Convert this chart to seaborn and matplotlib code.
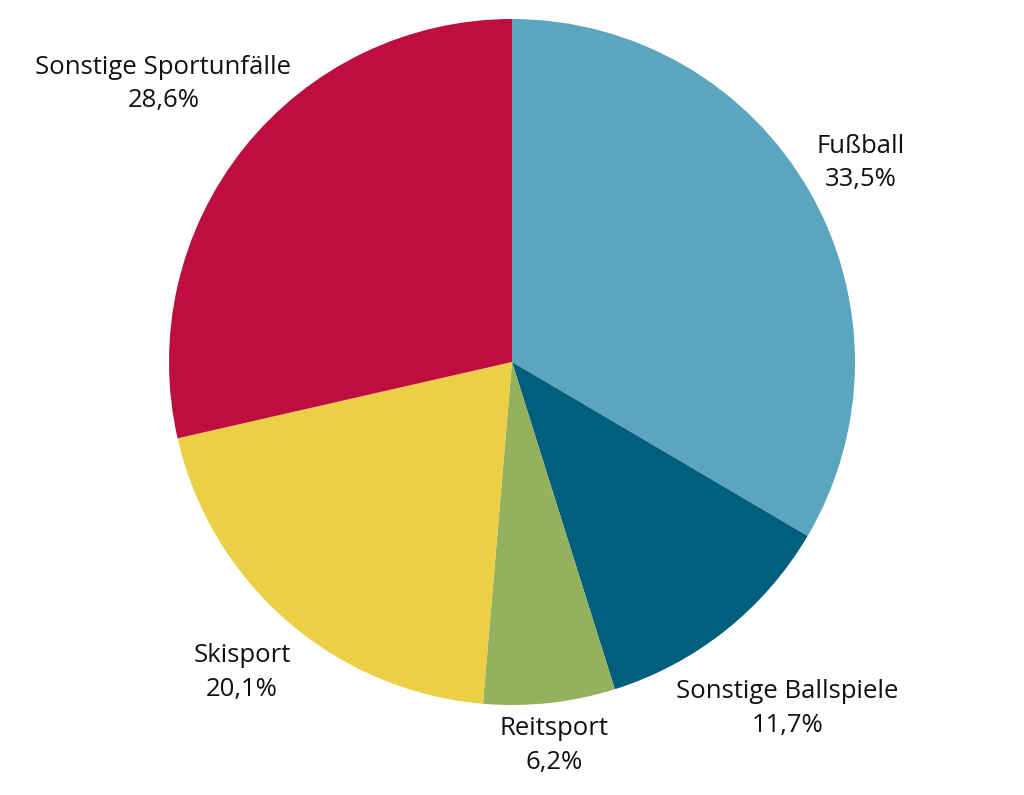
import numpy as np
import matplotlib
matplotlib.use("Agg")
import matplotlib.pyplot as plt
import seaborn as sns

categories = ["Fußball", "Sonstige Ballspiele", "Reitsport", "Skisport", "Sonstige Sportunfälle"]
values = [33.5, 11.7, 6.2, 20.1, 28.6]
value_labels = ["33,5%", "11,7%", "6,2%", "20,1%", "28,6%"]
colors = ["#5BA5BF", "#005F7D", "#94B25E", "#EBCF45", "#BE0E40"]
label_dist = [1.17, 1.29, 1.125, 1.2, 1.3]

sns.set_theme(style="white")
plt.rcParams['font.family'] = ['Open Sans', 'DejaVu Sans']

fig = plt.figure(figsize=(10.24, 7.95), dpi=100)
ax = fig.add_axes([0, 0, 1, 1])
r_px = 343.0
ax.pie(values, colors=colors, startangle=90, counterclock=False, radius=1.0,
       wedgeprops=dict(linewidth=0))
ax.set_xlim(-512 / r_px, 512 / r_px)
ax.set_ylim(-433 / r_px, 362 / r_px)
ax.set_aspect('equal')
ax.axis('off')

total = sum(values)
cum = 0.0
for cat, v, vl, d in zip(categories, values, value_labels, label_dist):
    mid = 90 - (cum + v / 2) / total * 360
    cum += v
    x = d * np.cos(np.radians(mid))
    y = d * np.sin(np.radians(mid))
    ax.text(x, y, f"{cat}\n{vl}", ha="center", va="center", fontsize=18.5,
            color="#111111", linespacing=1.45)

fig.savefig("out.png", dpi=100)
